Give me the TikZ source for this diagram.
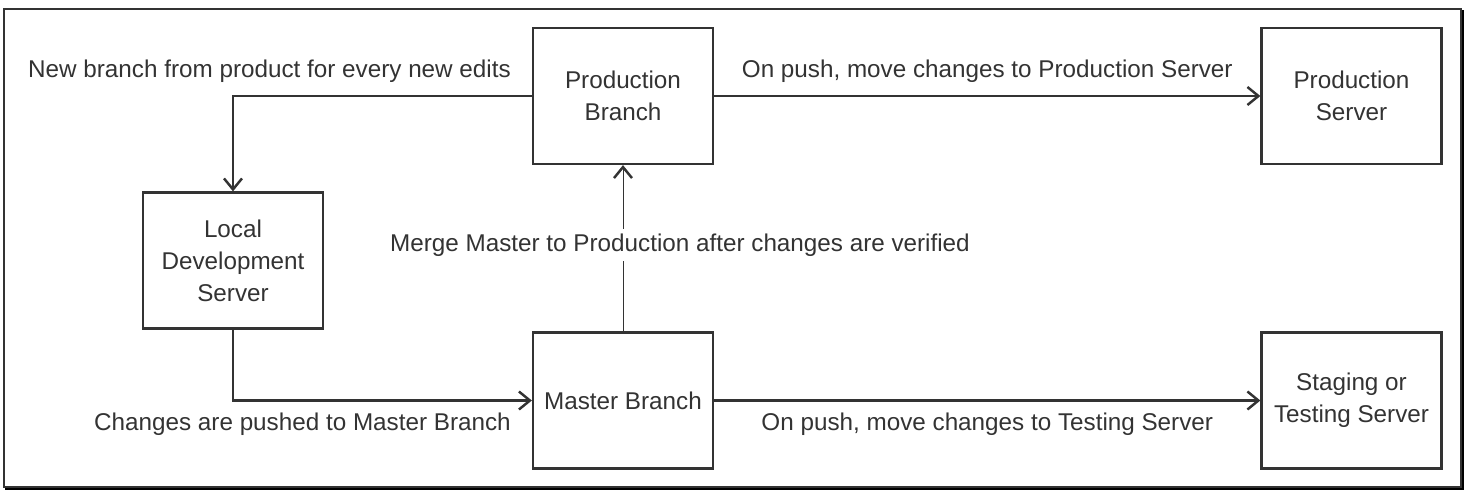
\documentclass[tikz,border=0pt]{standalone}
\usepackage{fontspec}
\setmainfont{Liberation Sans}
\usepackage{tikz}
\usetikzlibrary{arrows.meta,positioning}

\definecolor{ink}{HTML}{333333}

\tikzset{
	box/.style={draw=ink, line width=0.045cm, minimum width=3.6cm, minimum height=2.72cm, align=center, inner sep=0pt},
	lbl/.style={inner sep=0pt}
}

\begin{document}
\begin{tikzpicture}[->,>={Straight Barb[length=0.22cm,width=0.36cm,line width=1.4pt]},line width=0.045cm,color=ink,on grid,font=\fontsize{13.8}{18.2}\selectfont]

			\useasboundingbox (0,0) rectangle (29.4,-9.92);
			\draw[-,line width=0.04cm] (0.08,-0.18) rectangle (29.22,-9.74);
			% shadow of the frame
			\draw[-,line width=0.05cm,black] (0.1,-9.78) -- (29.26,-9.78) -- (29.26,-0.2);

			\node[box] 						(pb) at (12.46,-1.92) {Production\\Branch};
			\node[box,right=14.57cm of pb] 	(ps) {Production\\Server};
			\node[box,below=6.09cm of pb] 	(mb) {Master Branch};
			\node[box,right=14.57cm of mb] 	(ss) {Staging or\\Testing Server};
			\node[box,below left=3.29cm and 7.8cm of pb] (ld) {Local\\Development\\Server};

			\node[lbl,anchor=base east] (lnew)  at ([shift={(-0.4cm,0.38cm)}]pb.west) {New branch from product for every new edits};
			\node[lbl,anchor=base east] (lpush) at ([shift={(-0.4cm,-0.6cm)}]mb.west) {Changes are pushed to Master Branch};

			\draw	(pb.west) -| (ld.north);
			\draw	(ld.south) |- (mb.west);
			\draw	(pb.east) -- node[lbl,anchor=base,yshift=0.38cm] (lprod) {On push, move changes to Production Server} (ps.west);
			\draw	(mb.east) -- node[lbl,anchor=base,yshift=-0.6cm] (ltest) {On push, move changes to Testing Server} (ss.west);
			\draw[line width=0.02cm]	(mb.north) -- node[lbl,fill=white,inner sep=0.1cm,pos=0.52,xshift=1.14cm] (lmerge) {Merge Master to Production after changes are verified} (pb.south);
		\end{tikzpicture}
\end{document}
